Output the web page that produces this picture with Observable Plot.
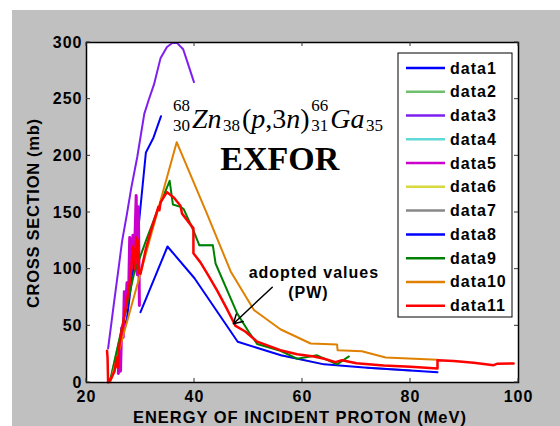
<!DOCTYPE html>
<html><head><meta charset="utf-8">
<script src="https://cdn.jsdelivr.net/npm/d3@7"></script>
<script src="https://cdn.jsdelivr.net/npm/@observablehq/plot@0.6"></script>
<style>
html,body{margin:0;padding:0;background:#fff;}
#chart svg text{letter-spacing:1px;}
</style></head><body><div id="chart"></div>
<script>
const xTicks = [20, 40, 60, 80, 100];
const yTicks = [0, 50, 100, 150, 200, 250, 300];
const seriesNames = ["data1","data2","data3","data4","data5","data6","data7","data8","data9","data10","data11"];
const seriesColors = ["#0000ff","#6fbf6f","#7f1fef","#60d8d8","#cc00cc","#d8d840","#888888","#0000ff","#008000","#e08000","#ff0000"];
const seriesWidths = [2, 2, 2, 2, 3, 2, 2, 2, 2, 2, 2.5];

// [energy MeV, cross section mb]
const data1 = [[24.4,3],[25,10],[26,30],[27.5,57],[28.5,95],[29.4,125],[29.9,150],[31,203],[32.4,216],[33.8,235]];
const data2 = [[24.4,2],[26.6,49]];
const data3 = [[24,30],[25,67],[26,103],[26.6,125],[27.5,149],[28.3,172],[29.4,199],[30.7,237],[31.5,249],[32.5,263],[33.7,286],[34.9,296],[35.9,299.5],[36.8,299.5],[37.9,294],[38.6,284],[39.9,265]];
const data4 = [[40.9,121],[43.4,121]];
const data5 = [[25.9,8],[26.1,35],[26.3,10],[26.5,48],[26.8,40],[27,80],[27.2,62],[27.5,88],[27.8,78],[28,128],[28.3,100],[28.6,130],[28.9,115],[29.2,165],[29.4,95],[29.6,155],[29.8,68]];
const data6 = [[56,24],[64,16]];
const data7 = [[72,13],[80,10.5]];
const data8 = [[30,62],[35,120],[40,92],[48,36],[56,24],[64,16],[72,13],[80,10.5],[85,9]];
const data9 = [[24.4,2],[26.6,49],[28.8,96],[31,125],[33,150],[35.4,178],[36,157],[37.4,155],[38,153],[39.9,133],[40.9,121],[43.4,121],[43.9,105],[47.9,61],[50,45],[51.6,34],[55.9,28],[59,21],[62.7,24],[66.4,16],[68.6,23]];
const data10 = [[24.4,0],[36.7,212],[42.3,149],[46.7,98],[51,64],[55.9,47],[61.5,34.4],[66.4,33.5],[66.5,28.5],[71,27.6],[75.4,22],[85,20]];
const data11 = [[23.8,28],[23.9,22],[24,0],[24.5,3],[25.2,10],[25.6,22],[25.8,13],[26,30],[26.5,45],[27.5,72],[28.2,95],[28.6,120],[29,100],[29.2,128],[29.5,125],[29.6,97],[30,96],[31,118],[32,135],[33,150],[33.3,155],[33.5,152],[33.7,159],[34.9,168],[36.2,163],[37.4,156],[37.7,149],[39.8,136],[39.8,114],[41.1,106],[42.5,95],[44.2,81],[46,65],[47.6,50],[49.4,45],[51.6,36],[55.9,28.5],[59,25],[62.1,23],[64,21],[66.1,18],[67.3,19.7],[70,17],[75,15],[80,14],[85,12.4],[85,19.7],[88,19],[91.7,17.4],[95.4,15.3],[96,16.5],[99.1,16.8]];
const allSeries = [data1,data2,data3,data4,data5,data6,data7,data8,data9,data10,data11];

const arrowFrom = [54.4, 84.1];
const arrowTo = [47.2, 51.9];
const titleExfor = "EXFOR";
const noteLines = ["adopted values", "(PW)"];
const xLabel = "ENERGY OF INCIDENT PROTON (MeV)";
const yLabel = "CROSS SECTION (mb)";

const plot = Plot.plot({
  width: 560, height: 426,
  marginLeft: 86, marginRight: 42, marginTop: 42, marginBottom: 44,
  x: {domain: [20, 100], label: null},
  y: {domain: [0, 300], label: null},
  style: {background: "none", fontFamily: "'Liberation Sans', Arial, sans-serif", fontWeight: "bold", fontSize: "16px", color: "black", overflow: "visible"},
  marks: [
    Plot.frame({fill: "white"}),
    ...allSeries.map((d, i) => Plot.line(d, {x: p => p[0], y: p => p[1], stroke: seriesColors[i], strokeWidth: seriesWidths[i]})),
    Plot.arrow([{a: arrowFrom, b: arrowTo}], {x1: d => d.a[0], y1: d => d.a[1], x2: d => d.b[0], y2: d => d.b[1], stroke: "black", strokeWidth: 1.5, headLength: 10}),
    Plot.frame({stroke: "black", strokeWidth: 1.5}),
    Plot.axisX(xTicks, {anchor: "bottom", tickSize: 0, tickPadding: 8, label: null}),
    Plot.axisY(yTicks, {anchor: "left", tickSize: 0, tickPadding: 4, label: null})
  ]
});
document.getElementById("chart").appendChild(plot);

const sx = plot.scale("x"), sy = plot.scale("y");
const X = v => sx.apply(v), Y = v => sy.apply(v);
const svg = d3.select(plot);
svg.insert("rect", ":first-child").attr("x", 12).attr("y", 10).attr("width", 548).attr("height", 416).attr("fill", "#c0c0c0");

// inward ticks
const tk = svg.append("g").attr("stroke", "#333").attr("stroke-width", 1);
xTicks.forEach(v => {
  tk.append("line").attr("x1", X(v)).attr("x2", X(v)).attr("y1", Y(0)).attr("y2", Y(0) - 4);
  tk.append("line").attr("x1", X(v)).attr("x2", X(v)).attr("y1", Y(300)).attr("y2", Y(300) + 4);
});
yTicks.forEach(v => {
  tk.append("line").attr("x1", X(20)).attr("x2", X(20) + 4).attr("y1", Y(v)).attr("y2", Y(v));
  tk.append("line").attr("x1", X(100)).attr("x2", X(100) - 4).attr("y1", Y(v)).attr("y2", Y(v));
});

// axis labels
svg.append("text").attr("x", (X(20) + X(100)) / 2 - 2).attr("y", 423).attr("text-anchor", "middle")
  .attr("font-size", 16.5).attr("textLength", 334).attr("lengthAdjust", "spacing").text(xLabel);
svg.append("text").attr("transform", `translate(38.5,${(Y(0) + Y(300)) / 2 + 1}) rotate(-90)`).attr("text-anchor", "middle")
  .attr("font-size", 16.5).attr("textLength", 190).attr("lengthAdjust", "spacing").text(yLabel);

// legend
const lg = svg.append("g").attr("text-anchor", "start");
const lx = X(100) - 120, ly = Y(300) + 11;
lg.append("rect").attr("x", lx).attr("y", ly).attr("width", 114).attr("height", 264).attr("fill", "white").attr("stroke", "black").attr("stroke-width", 1);
seriesNames.forEach((n, i) => {
  const cy = ly + 15 + i * 23.77;
  lg.append("line").attr("x1", lx + 8).attr("x2", lx + 47).attr("y1", cy).attr("y2", cy).attr("stroke", seriesColors[i]).attr("stroke-width", 2.5);
  lg.append("text").attr("x", lx + 52).attr("y", cy + 5.5).attr("font-size", 16).text(n);
});

// annotations
svg.append("text").attr("x", X(55.9)).attr("y", Y(187)).attr("text-anchor", "middle")
  .attr("font-family", "'Liberation Serif','Times New Roman',serif").attr("font-size", 34).attr("font-weight", "bold").style("letter-spacing", "0px").text(titleExfor);
svg.append("text").attr("x", X(62.2)).attr("y", Y(91.8)).attr("text-anchor", "middle").attr("font-size", 16).text(noteLines[0]);
svg.append("text").attr("x", X(61.2)).attr("y", Y(73.9)).attr("text-anchor", "middle").attr("font-size", 16).text(noteLines[1]);

// reaction formula
const fg = svg.append("g").attr("text-anchor", "start").attr("font-family", "'Liberation Serif','Times New Roman',serif").attr("font-weight", "normal").style("letter-spacing", "0px");
let cx = X(36.1);
const base = Y(224.1);
const mainSize = 28, scrSize = 17;
function put(parts, size, dy) {
  const t = fg.append("text").attr("x", cx).attr("y", base + dy).attr("font-size", size).style("letter-spacing", "0px");
  parts.forEach(([s, it]) => t.append("tspan").attr("font-style", it ? "italic" : "normal").text(s));
  return t.node().getComputedTextLength();
}
function stack(sup, sub) {
  const w1 = put([[sup, false]], scrSize, -17);
  const w2 = put([[sub, false]], scrSize, 3);
  cx += Math.max(w1, w2) + 2;
}
stack("68", "30");
cx += put([["Zn", true]], mainSize, 0) + 1.5;
cx += put([["38", false]], scrSize, 3) + 2;
cx += put([["(", false], ["p", true], [",", false], ["3", false], ["n", true], [")", false]], mainSize, 0) + 1.5;
stack("66", "31");
cx += put([["Ga", true]], mainSize, 0) + 1.5;
cx += put([["35", false]], scrSize, 3);
</script></body></html>
